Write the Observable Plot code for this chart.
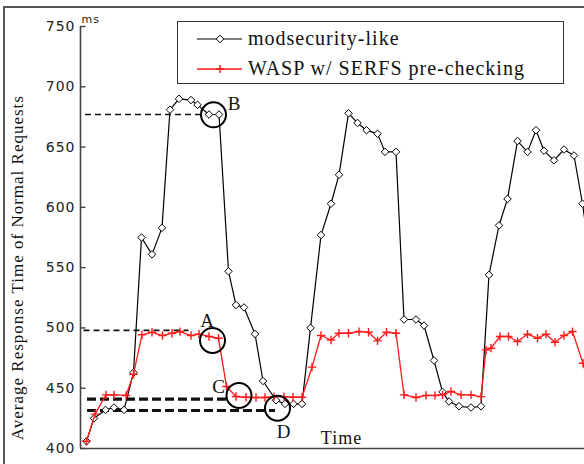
<!DOCTYPE html>
<html><head><meta charset="utf-8">
<script src="https://cdn.jsdelivr.net/npm/d3@7"></script>
<script src="https://cdn.jsdelivr.net/npm/@observablehq/plot@0.6"></script>
<style>
body{margin:0;background:#fff;}
#wrap{position:relative;width:584px;height:464px;overflow:hidden;background:#fff;}
#wrap svg.plot{position:absolute;left:0;top:0;overflow:visible;}
#wrap svg text{letter-spacing:1px;}
#frame{position:absolute;left:3px;top:6px;width:700px;height:600px;border-top:2px solid #555;border-left:2px solid #555;pointer-events:none;}
#legend{position:absolute;left:177px;top:21px;width:387px;height:63px;border:1.5px solid #333;background:#fff;box-sizing:border-box;font-family:"Liberation Serif",serif;font-size:20px;letter-spacing:1px;color:#111;}
#legend .row{position:absolute;left:70px;line-height:20px;white-space:nowrap;}
#legend svg{position:absolute;left:0;top:0;}
</style></head>
<body>
<div id="wrap"><div id="frame"></div></div>
<script>
// time (arbitrary units) and response time (ms) — modsecurity-like
const timeModsec = [1.0,2.5,4.8,6.5,8.5,10.4,12.0,14.1,16.1,17.7,19.5,21.9,23.2,25.5,27.5,29.4,30.9,32.5,34.7,36.3,38.9,40.7,42.4,44.1,45.8,47.9,49.9,51.5,53.4,55.2,57.0,59.2,60.7,62.9,64.5,66.9,68.5,70.5,72.2,73.5,75.5,77.9,79.9,81.5,83.5,85.2,87.2,89.2,90.9,92.5,94.5,96.5,98.5,100.2,102.2];
const modsec = [406,425,432,434,432,463,575,561,583,681,690,689,685,677,677,547,519,517,495,456,440,437,437,437,500,577,603,627,678,670,664,661,646,646,507,507,502,473,447,439,435,434,435,544,585,607,655,646,664,647,639,648,643,603,545];
// WASP w/ SERFS pre-checking
const timeWasp = [1.0,2.7,4.9,6.5,8.9,10.4,12.1,14.1,16.2,18.1,19.7,21.9,23.5,25.5,27.4,29.0,30.9,32.9,34.9,36.7,38.5,40.5,42.3,44.1,46.1,47.9,49.9,51.5,53.4,55.5,57.4,59.2,61.0,62.9,64.5,66.9,68.9,70.7,72.2,73.9,75.9,77.9,79.9,80.9,81.9,83.7,85.4,87.2,89.2,91.2,92.9,94.7,96.5,98.2,100.3,102.2];
const wasp = [406,428.5,444.5,444.5,444,461.6,494.3,496.4,493.7,495.6,497,493.7,494.8,492.9,491.5,451.4,443.1,442.5,442.3,442.3,443,443,442.5,442.5,467.5,493.7,490,495.6,495.6,497,496.4,489.3,496.4,495.6,444.5,442.3,444,444,444.5,447.3,444.5,444.5,443,481.8,483.2,492.9,492.9,488.7,494.8,491.5,494.8,488.1,493.7,497,470.7,443];
const yTicks = [400,450,500,550,600,650,700,750];
// reference (dashed) levels and where they end
const refLevel = [677,498,441,431.5];
const refStart = [0.8,0.5,1.2,1.2];
const refEnd = [25.2,21.5,29.2,38.8];
// annotated circles and letters
const markName = ["B","A","C","D"];
const markT = [26.4,26.2,31.5,39.2];
const markV = [676.8,489.6,444,433.4];
const letterT = [30.6,25.2,27.5,40.5];
const letterV = [686,506,451.4,413.5];
const seriesNames = ["modsecurity-like","WASP w/ SERFS pre-checking"];
const yTitle = "Average Response Time of Normal Requests";
const xTitle = "Time";

const black = timeModsec.map((t,i)=>({t, v:modsec[i]}));
const red = timeWasp.map((t,i)=>({t, v:wasp[i]}));
const refs = refLevel.map((v,i)=>({v, x1:refStart[i], x2:refEnd[i]}));
const marks = markName.map((n,i)=>({n, t:markT[i], v:markV[i], lt:letterT[i], lv:letterV[i]}));

const serif = "Liberation Serif, serif";
const chart = Plot.plot({
  width:584, height:464,
  marginLeft:80, marginRight:0, marginTop:26, marginBottom:16,
  x:{domain:[-0.2,100.6], axis:null},
  y:{domain:[400,750], axis:null},
  style:{background:"transparent", overflow:"visible"},
  marks:[
    // dashed references
    Plot.ruleY(refs.slice(0,2), {y:"v", x1:"x1", x2:"x2", stroke:"#111", strokeWidth:1.6, strokeDasharray:"6,4"}),
    Plot.ruleY(refs.slice(2), {y:"v", x1:"x1", x2:"x2", stroke:"#111", strokeWidth:3.2, strokeDasharray:"9,4"}),
    // series
    Plot.line(black, {x:"t", y:"v", stroke:"#000", strokeWidth:1.2, clip:true}),
    Plot.dot(black, {x:"t", y:"v", symbol:"diamond2", r:3.4, fill:"white", stroke:"#000", strokeWidth:1, clip:true}),
    Plot.line(red, {x:"t", y:"v", stroke:"#ff1a1a", strokeWidth:1.3, clip:true}),
    Plot.dot(red, {x:"t", y:"v", symbol:"plus", r:2.8, stroke:"#ff1a1a", strokeWidth:1.4, clip:true}),
    // annotations
    Plot.dot(marks, {x:"t", y:"v", r:12.5, stroke:"#000", strokeWidth:2, fill:"none"}),
    Plot.text(marks, {x:"lt", y:"lv", text:"n", fontFamily:serif, fontSize:19, fill:"#111"}),
    // axes
    Plot.ruleY([400], {stroke:"#444", strokeWidth:1.6}),
    Plot.ruleX([-0.2], {stroke:"#444", strokeWidth:1.6}),
    Plot.ruleY(yTicks, {x1:-0.2, x2:0.9, stroke:"#444", strokeWidth:1.4}),
    Plot.text(yTicks, {x:-0.2, y:d=>d, text:d=>String(d), textAnchor:"end", dx:-5, fontFamily:"DejaVu Sans", fontSize:14, fill:"#222"}),
    Plot.text(["ms"], {frameAnchor:"top-left", textAnchor:"start", dx:1, dy:-11, fontFamily:"DejaVu Sans", fontSize:11, fill:"#222"}),
    Plot.text([xTitle], {frameAnchor:"bottom", dx:9, dy:-5, fontFamily:serif, fontSize:18, fill:"#111"}),
    Plot.text([yTitle], {x:-12.8, y:550, rotate:-90, fontFamily:serif, fontSize:17, fill:"#111"})
  ]
});
chart.classList.add("plot");
const wrap = document.getElementById("wrap");
wrap.insertBefore(chart, wrap.firstChild);

// legend
const lg = document.createElement("div");
lg.id = "legend";
lg.innerHTML = `<svg width="387" height="63">
  <line x1="19" x2="64" y1="17" y2="17" stroke="#000" stroke-width="1.2"/>
  <path d="M42,13.2L45.8,17L42,20.8L38.2,17Z" fill="white" stroke="#000"/>
  <line x1="19" x2="64" y1="47" y2="47" stroke="#ff1a1a" stroke-width="1.3"/>
  <path d="M42,43V51M38,47H46" stroke="#ff1a1a" stroke-width="1.4"/>
</svg>
<div class="row" style="top:6px">${seriesNames[0]}</div>
<div class="row" style="top:36px">${seriesNames[1]}</div>`;
wrap.appendChild(lg);
</script>
</body></html>
